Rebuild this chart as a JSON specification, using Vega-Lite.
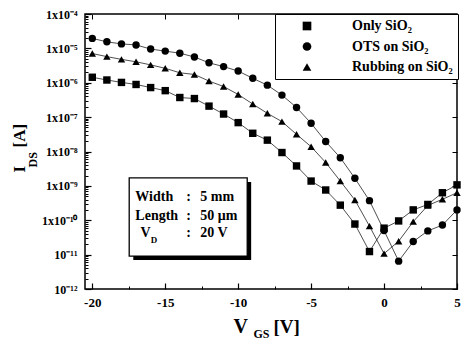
{
  "$schema": "https://vega.github.io/schema/vega-lite/v6.json",
  "width": 372,
  "height": 275,
  "autosize": {"type": "none"},
  "padding": {"left": 85, "top": 14, "right": 5, "bottom": 50},
  "background": "white",
  "config": {
    "view": {"stroke": "black", "strokeWidth": 1.5},
    "font": "Liberation Serif",
    "axis": {"grid": false, "domain": false, "tickColor": "black", "labelColor": "black", "titleColor": "black"}
  },
  "datasets": {
    "curves": [
      {"series": "Only SiO₂", "vgs": -20, "ids": 1.445e-6},
      {"series": "Only SiO₂", "vgs": -19, "ids": 1.202e-6},
      {"series": "Only SiO₂", "vgs": -18, "ids": 1.023e-6},
      {"series": "Only SiO₂", "vgs": -17, "ids": 8.91e-7},
      {"series": "Only SiO₂", "vgs": -16, "ids": 7.24e-7},
      {"series": "Only SiO₂", "vgs": -15, "ids": 5.89e-7},
      {"series": "Only SiO₂", "vgs": -14, "ids": 3.72e-7},
      {"series": "Only SiO₂", "vgs": -13, "ids": 3.47e-7},
      {"series": "Only SiO₂", "vgs": -12, "ids": 2.09e-7},
      {"series": "Only SiO₂", "vgs": -11, "ids": 1.23e-7},
      {"series": "Only SiO₂", "vgs": -10, "ids": 6.92e-8},
      {"series": "Only SiO₂", "vgs": -9, "ids": 3.39e-8},
      {"series": "Only SiO₂", "vgs": -8, "ids": 2.14e-8},
      {"series": "Only SiO₂", "vgs": -7, "ids": 9.33e-9},
      {"series": "Only SiO₂", "vgs": -6, "ids": 3.80e-9},
      {"series": "Only SiO₂", "vgs": -5, "ids": 1.38e-9},
      {"series": "Only SiO₂", "vgs": -4, "ids": 7.59e-10},
      {"series": "Only SiO₂", "vgs": -3, "ids": 2.75e-10},
      {"series": "Only SiO₂", "vgs": -2, "ids": 7.76e-11},
      {"series": "Only SiO₂", "vgs": -1, "ids": 1.23e-11},
      {"series": "Only SiO₂", "vgs": 0, "ids": 5.89e-11},
      {"series": "Only SiO₂", "vgs": 1, "ids": 9.55e-11},
      {"series": "Only SiO₂", "vgs": 2, "ids": 2.00e-10},
      {"series": "Only SiO₂", "vgs": 3, "ids": 2.88e-10},
      {"series": "Only SiO₂", "vgs": 4, "ids": 6.31e-10},
      {"series": "Only SiO₂", "vgs": 5, "ids": 1.07e-9},
      {"series": "OTS on SiO₂", "vgs": -20, "ids": 1.95e-5},
      {"series": "OTS on SiO₂", "vgs": -19, "ids": 1.55e-5},
      {"series": "OTS on SiO₂", "vgs": -18, "ids": 1.35e-5},
      {"series": "OTS on SiO₂", "vgs": -17, "ids": 1.26e-5},
      {"series": "OTS on SiO₂", "vgs": -16, "ids": 9.55e-6},
      {"series": "OTS on SiO₂", "vgs": -15, "ids": 8.32e-6},
      {"series": "OTS on SiO₂", "vgs": -14, "ids": 7.24e-6},
      {"series": "OTS on SiO₂", "vgs": -13, "ids": 5.62e-6},
      {"series": "OTS on SiO₂", "vgs": -12, "ids": 3.80e-6},
      {"series": "OTS on SiO₂", "vgs": -11, "ids": 2.95e-6},
      {"series": "OTS on SiO₂", "vgs": -10, "ids": 2.19e-6},
      {"series": "OTS on SiO₂", "vgs": -9, "ids": 1.35e-6},
      {"series": "OTS on SiO₂", "vgs": -8, "ids": 8.51e-7},
      {"series": "OTS on SiO₂", "vgs": -7, "ids": 4.37e-7},
      {"series": "OTS on SiO₂", "vgs": -6, "ids": 1.91e-7},
      {"series": "OTS on SiO₂", "vgs": -5, "ids": 6.61e-8},
      {"series": "OTS on SiO₂", "vgs": -4, "ids": 1.95e-8},
      {"series": "OTS on SiO₂", "vgs": -3, "ids": 6.61e-9},
      {"series": "OTS on SiO₂", "vgs": -2, "ids": 1.66e-9},
      {"series": "OTS on SiO₂", "vgs": -1, "ids": 3.72e-10},
      {"series": "OTS on SiO₂", "vgs": 0, "ids": 5.01e-11},
      {"series": "OTS on SiO₂", "vgs": 1, "ids": 6.46e-12},
      {"series": "OTS on SiO₂", "vgs": 2, "ids": 2.40e-11},
      {"series": "OTS on SiO₂", "vgs": 3, "ids": 4.90e-11},
      {"series": "OTS on SiO₂", "vgs": 4, "ids": 7.24e-11},
      {"series": "OTS on SiO₂", "vgs": 5, "ids": 2.00e-10},
      {"series": "Rubbing on SiO₂", "vgs": -20, "ids": 7.08e-6},
      {"series": "Rubbing on SiO₂", "vgs": -19, "ids": 5.75e-6},
      {"series": "Rubbing on SiO₂", "vgs": -18, "ids": 4.79e-6},
      {"series": "Rubbing on SiO₂", "vgs": -17, "ids": 4.07e-6},
      {"series": "Rubbing on SiO₂", "vgs": -16, "ids": 3.31e-6},
      {"series": "Rubbing on SiO₂", "vgs": -15, "ids": 2.63e-6},
      {"series": "Rubbing on SiO₂", "vgs": -14, "ids": 1.95e-6},
      {"series": "Rubbing on SiO₂", "vgs": -13, "ids": 1.74e-6},
      {"series": "Rubbing on SiO₂", "vgs": -12, "ids": 1.12e-6},
      {"series": "Rubbing on SiO₂", "vgs": -11, "ids": 7.76e-7},
      {"series": "Rubbing on SiO₂", "vgs": -10, "ids": 4.57e-7},
      {"series": "Rubbing on SiO₂", "vgs": -9, "ids": 2.40e-7},
      {"series": "Rubbing on SiO₂", "vgs": -8, "ids": 1.29e-7},
      {"series": "Rubbing on SiO₂", "vgs": -7, "ids": 7.41e-8},
      {"series": "Rubbing on SiO₂", "vgs": -6, "ids": 3.16e-8},
      {"series": "Rubbing on SiO₂", "vgs": -5, "ids": 1.38e-8},
      {"series": "Rubbing on SiO₂", "vgs": -4, "ids": 4.79e-9},
      {"series": "Rubbing on SiO₂", "vgs": -3, "ids": 1.38e-9},
      {"series": "Rubbing on SiO₂", "vgs": -2, "ids": 3.89e-10},
      {"series": "Rubbing on SiO₂", "vgs": -1, "ids": 6.76e-11},
      {"series": "Rubbing on SiO₂", "vgs": 0, "ids": 1.07e-11},
      {"series": "Rubbing on SiO₂", "vgs": 1, "ids": 2.45e-11},
      {"series": "Rubbing on SiO₂", "vgs": 2, "ids": 9.12e-11},
      {"series": "Rubbing on SiO₂", "vgs": 3, "ids": 2.69e-10},
      {"series": "Rubbing on SiO₂", "vgs": 4, "ids": 4.07e-10},
      {"series": "Rubbing on SiO₂", "vgs": 5, "ids": 6.31e-10}
    ],
    "shadow": [{"x1": -17.19, "x2": -9.11, "y1": 1.30e-9, "y2": 6.98e-12}],
    "box": [{"x1": -17.47, "x2": -9.38, "y1": 1.7e-9, "y2": 9.1e-12}],
    "note": [
      {"x": -17.05, "y": 4.8e-10, "t": "Width"},
      {"x": -13.56, "y": 4.8e-10, "t": ":"},
      {"x": -12.6, "y": 4.8e-10, "t": "5 mm"},
      {"x": -17.05, "y": 1.33e-10, "t": "Length"},
      {"x": -13.56, "y": 1.33e-10, "t": ":"},
      {"x": -12.6, "y": 1.33e-10, "t": "50 μm"},
      {"x": -16.7, "y": 4.27e-11, "t": "V"},
      {"x": -13.56, "y": 4.27e-11, "t": ":"},
      {"x": -12.6, "y": 4.27e-11, "t": "20 V"}
    ],
    "sub": [{"x": -16.0, "y": 2.66e-11, "t": "D"}]
  },
  "layer": [
    {
      "data": {"name": "curves"},
      "mark": {"type": "line", "color": "#222", "strokeWidth": 0.8},
      "encoding": {
        "x": {"field": "vgs", "type": "quantitative",
          "scale": {"domain": [-20.5, 5], "nice": false, "zero": false},
          "axis": {"orient": "bottom", "values": [-20, -15, -10, -5, 0, 5], "tickSize": -6, "tickWidth": 1.2,
            "labelExpr": "datum.value + ''", "labelFlush": false, "labelFont": "Liberation Serif", "labelFontWeight": "bold", "labelFontSize": 13, "labelPadding": 13,
            "title": "V", "titleFont": "Liberation Serif", "titleFontWeight": "bold", "titleFontSize": 20, "titleX": 148, "titleY": 43, "titleAlign": "left", "titleBaseline": "alphabetic"}},
        "y": {"field": "ids", "type": "quantitative",
          "scale": {"type": "log", "domain": [1e-12, 1e-4], "nice": false},
          "axis": {"orient": "left", "values": [1e-12, 1e-11, 1e-10, 1e-9, 1e-8, 1e-7, 1e-6, 1e-5, 1e-4], "tickSize": -6, "tickWidth": 1.2,
            "labelExpr": "['10⁻¹²','10⁻¹¹','1x10⁻¹⁰','1x10⁻⁹','1x10⁻⁸','1x10⁻⁷','1x10⁻⁶','1x10⁻⁵','1x10⁻⁴'][round(log(datum.value)/LN10) + 12]",
            "labelFont": "Liberation Serif", "labelFontWeight": "bold", "labelFontSize": 12, "labelPadding": 14, "labelFlush": false,
            "title": "I", "titleFont": "Liberation Serif", "titleFontWeight": "bold", "titleFontSize": 17, "titleAngle": 270, "titleX": -61, "titleY": 158, "titleAlign": "left", "titleBaseline": "alphabetic"}},
        "detail": {"field": "series", "type": "nominal"}
      }
    },
    {
      "data": {"name": "curves"},
      "mark": {"type": "point", "filled": true, "color": "black", "opacity": 1, "size": 55},
      "encoding": {
        "x": {"field": "vgs", "type": "quantitative",
          "scale": {"domain": [-20.5, 5], "nice": false, "zero": false},
          "axis": {"orient": "bottom", "values": [-17.5, -12.5, -7.5, -2.5, 2.5], "labels": false, "tickSize": -3, "tickWidth": 1,
            "title": "GS", "titleFont": "Liberation Serif", "titleFontWeight": "bold", "titleFontSize": 12, "titleX": 168, "titleY": 48, "titleAlign": "left", "titleBaseline": "alphabetic"}},
        "y": {"field": "ids", "type": "quantitative",
          "scale": {"type": "log", "domain": [1e-12, 1e-4], "nice": false},
          "axis": {"orient": "left", "values": [2e-12,3e-12,4e-12,5e-12,6e-12,7e-12,8e-12,9e-12,2e-11,3e-11,4e-11,5e-11,6e-11,7e-11,8e-11,9e-11,2e-10,3e-10,4e-10,5e-10,6e-10,7e-10,8e-10,9e-10,2e-9,3e-9,4e-9,5e-9,6e-9,7e-9,8e-9,9e-9,2e-8,3e-8,4e-8,5e-8,6e-8,7e-8,8e-8,9e-8,2e-7,3e-7,4e-7,5e-7,6e-7,7e-7,8e-7,9e-7,2e-6,3e-6,4e-6,5e-6,6e-6,7e-6,8e-6,9e-6,2e-5,3e-5,4e-5,5e-5,6e-5,7e-5,8e-5,9e-5],
            "labels": false, "tickSize": -3, "tickWidth": 1,
            "title": "DS", "titleFont": "Liberation Serif", "titleFontWeight": "bold", "titleFontSize": 12, "titleAngle": 270, "titleX": -49, "titleY": 153, "titleAlign": "left", "titleBaseline": "alphabetic"}},
        "shape": {"field": "series", "type": "nominal",
          "scale": {"domain": ["Only SiO₂", "OTS on SiO₂", "Rubbing on SiO₂"], "range": ["square", "circle", "triangle-up"]},
          "legend": {"orient": "none", "legendX": 190, "legendY": 0, "title": null, "padding": 5,
            "strokeColor": "black", "fillColor": "white", "symbolSize": 75, "symbolOffset": 20, "labelOffset": 38,
            "labelFont": "Liberation Serif", "labelFontSize": 14, "labelFontWeight": "bold", "labelColor": "black",
            "rowPadding": 6.5, "symbolStrokeWidth": 0}}
      }
    },
    {
      "data": {"name": "shadow"},
      "mark": {"type": "rect", "color": "black"},
      "encoding": {
        "x": {"field": "x1", "type": "quantitative", "scale": {"domain": [-20.5, 5], "nice": false, "zero": false},
          "axis": {"orient": "bottom", "ticks": false, "labels": false,
            "title": "[V]", "titleFont": "Liberation Serif", "titleFontWeight": "bold", "titleFontSize": 19, "titleX": 188, "titleY": 43, "titleAlign": "left", "titleBaseline": "alphabetic"}},
        "x2": {"field": "x2"},
        "y": {"field": "y1", "type": "quantitative", "scale": {"type": "log", "domain": [1e-12, 1e-4], "nice": false},
          "axis": {"orient": "left", "ticks": false, "labels": false,
            "title": "[A]", "titleFont": "Liberation Serif", "titleFontWeight": "bold", "titleFontSize": 17, "titleAngle": 270, "titleX": -61, "titleY": 133, "titleAlign": "left", "titleBaseline": "alphabetic"}},
        "y2": {"field": "y2"}
      }
    },
    {
      "data": {"name": "box"},
      "mark": {"type": "rect", "fill": "white", "stroke": "black", "strokeWidth": 1.3},
      "encoding": {
        "x": {"field": "x1", "type": "quantitative", "scale": {"domain": [-20.5, 5], "nice": false, "zero": false},
          "axis": {"orient": "top", "values": [-20, -15, -10, -5, 0, 5], "tickSize": -5, "tickWidth": 1, "labels": false, "title": null}},
        "x2": {"field": "x2"},
        "y": {"field": "y1", "type": "quantitative", "scale": {"type": "log", "domain": [1e-12, 1e-4], "nice": false},
          "axis": {"orient": "right", "values": [1e-12, 1e-11, 1e-10, 1e-9, 1e-8, 1e-7, 1e-6, 1e-5, 1e-4], "tickSize": -5, "tickWidth": 1, "labels": false, "title": null}},
        "y2": {"field": "y2"}
      }
    },
    {
      "data": {"name": "note"},
      "mark": {"type": "text", "align": "left", "baseline": "middle", "font": "Liberation Serif", "fontWeight": "bold", "fontSize": 14, "color": "black"},
      "encoding": {
        "x": {"field": "x", "type": "quantitative", "scale": {"domain": [-20.5, 5], "nice": false, "zero": false}, "axis": null},
        "y": {"field": "y", "type": "quantitative", "scale": {"type": "log", "domain": [1e-12, 1e-4], "nice": false}, "axis": null},
        "text": {"field": "t"}
      }
    },
    {
      "data": {"name": "sub"},
      "mark": {"type": "text", "align": "left", "baseline": "middle", "font": "Liberation Serif", "fontWeight": "bold", "fontSize": 9, "color": "black"},
      "encoding": {
        "x": {"field": "x", "type": "quantitative", "scale": {"domain": [-20.5, 5], "nice": false, "zero": false}, "axis": null},
        "y": {"field": "y", "type": "quantitative", "scale": {"type": "log", "domain": [1e-12, 1e-4], "nice": false}, "axis": null},
        "text": {"field": "t"}
      }
    }
  ],
  "resolve": {"axis": {"x": "independent", "y": "independent"}}
}
